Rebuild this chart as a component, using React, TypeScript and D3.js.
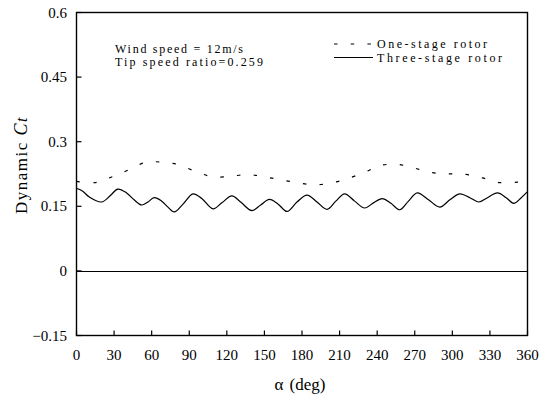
import React, { useEffect, useRef } from "react";
import * as d3 from "d3";

var width = 546,
  height = 394;
var margin = { left: 76.5, right: 18.5, top: 12.5, bottom: 58.5 };
var font = "'Liberation Serif', 'DejaVu Serif', serif";

// angle (deg) and dynamic Ct
const oneStageAlpha = [0, 15, 28, 42, 55, 68, 81, 94, 108, 122, 136, 149, 162, 176, 190, 203, 216, 230, 243, 257, 270, 284, 297, 311, 324, 338, 352, 360];
const oneStageCt = [0.208, 0.205, 0.218, 0.235, 0.252, 0.2525, 0.247, 0.232, 0.219, 0.219, 0.224, 0.219, 0.212, 0.205, 0.2, 0.204, 0.214, 0.229, 0.245, 0.247, 0.2385, 0.228, 0.2255, 0.224, 0.216, 0.205, 0.206, 0.21];

const threeStageAlpha = [0, 5, 10, 20, 27, 33, 40, 46, 52, 57, 62, 68, 73, 78, 85, 93, 100, 109, 116, 124, 131, 140, 147, 154, 161, 168, 176, 184, 192, 200, 207, 214, 222, 230, 237, 244, 251, 258, 265, 272, 281, 290, 298, 306, 314, 321, 328, 336, 343, 349, 355, 360];
const threeStageCt = [0.192, 0.185, 0.172, 0.16, 0.175, 0.19, 0.181, 0.165, 0.153, 0.16, 0.17, 0.162, 0.148, 0.137, 0.155, 0.179, 0.168, 0.144, 0.158, 0.174, 0.16, 0.14, 0.153, 0.166, 0.155, 0.138, 0.16, 0.176, 0.16, 0.143, 0.162, 0.179, 0.162, 0.146, 0.158, 0.168, 0.157, 0.142, 0.162, 0.181, 0.165, 0.148, 0.165, 0.179, 0.17, 0.16, 0.17, 0.181, 0.17, 0.157, 0.17, 0.184];

const xTicks = [0, 30, 60, 90, 120, 150, 180, 210, 240, 270, 300, 330, 360];
const yTicks = [-0.15, 0, 0.15, 0.3, 0.45, 0.6];
const yTickLabels = ["\u22120.15", "0", "0.15", "0.3", "0.45", "0.6"];

export default function App() {
  const svgRef = useRef<SVGSVGElement>(null);

  useEffect(() => {
    const svg = d3.select(svgRef.current);
    svg.selectAll("*").remove();

    const x = d3.scaleLinear().domain([0, 360]).range([margin.left, width - margin.right]);
    const y = d3.scaleLinear().domain([-0.15, 0.6]).range([height - margin.bottom, margin.top]);

    const g = svg.append("g");

    // zero line
    g.append("line")
      .attr("x1", x(0)).attr("x2", x(360))
      .attr("y1", Math.round(y(0)) + 0.5).attr("y2", Math.round(y(0)) + 0.5)
      .attr("stroke", "black").attr("stroke-width", 1.2);

    const line = d3.line<[number, number]>()
      .x(d => x(d[0]))
      .y(d => y(d[1]))
      .curve(d3.curveCatmullRom.alpha(0.5));

    // one-stage rotor (dashed)
    g.append("path")
      .attr("d", line(oneStageAlpha.map((a, i) => [a, oneStageCt[i]])))
      .attr("fill", "none")
      .attr("stroke", "black")
      .attr("stroke-width", 1.2)
      .attr("stroke-dasharray", "3.5,13.2");

    // three-stage rotor (solid)
    g.append("path")
      .attr("d", line(threeStageAlpha.map((a, i) => [a, threeStageCt[i]])))
      .attr("fill", "none")
      .attr("stroke", "black")
      .attr("stroke-width", 1.2);

    // frame
    g.append("rect")
      .attr("x", x(0)).attr("y", y(0.6))
      .attr("width", x(360) - x(0)).attr("height", y(-0.15) - y(0.6))
      .attr("fill", "none").attr("stroke", "black").attr("stroke-width", 1.4);

    // ticks inside
    g.selectAll(".xt")
      .data(xTicks)
      .enter()
      .append("line")
      .attr("x1", d => x(d)).attr("x2", d => x(d))
      .attr("y1", y(-0.15)).attr("y2", y(-0.15) - 5)
      .attr("stroke", "black").attr("stroke-width", 1.2);

    g.selectAll(".yt")
      .data(yTicks)
      .enter()
      .append("line")
      .attr("x1", x(0)).attr("x2", x(0) + 5)
      .attr("y1", d => y(d)).attr("y2", d => y(d))
      .attr("stroke", "black").attr("stroke-width", 1.2);

    // tick labels
    g.selectAll(".xl")
      .data(xTicks)
      .enter()
      .append("text")
      .attr("x", d => x(d))
      .attr("y", 360)
      .attr("text-anchor", "middle")
      .attr("font-family", font)
      .attr("font-size", 15)
      .text(d => d);

    g.selectAll(".yl")
      .data(yTicks)
      .enter()
      .append("text")
      .attr("x", 67)
      .attr("y", d => y(d) + 5)
      .attr("text-anchor", "end")
      .attr("font-family", font)
      .attr("font-size", 15)
      .text((d, i) => yTickLabels[i]);

    // axis titles
    const yt = g.append("text")
      .attr("transform", "translate(27,165) rotate(-90)")
      .attr("text-anchor", "middle")
      .attr("font-family", font)
      .attr("font-size", 17)
      .attr("letter-spacing", 1.5);
    yt.append("tspan").text("Dynamic ");
    yt.append("tspan").attr("font-style", "italic").attr("font-size", 18).text("C");
    yt.append("tspan").attr("font-style", "italic").attr("font-size", 16).text("t");

    const xt = g.append("text")
      .attr("x", 300)
      .attr("y", 390)
      .attr("text-anchor", "middle")
      .attr("font-family", font)
      .attr("font-size", 17);
    xt.append("tspan").text("\u03b1");
    xt.append("tspan").attr("dx", 6).text("(deg)");

    // annotation
    g.append("text")
      .attr("x", 115).attr("y", 53)
      .attr("font-family", font).attr("font-size", 12)
      .attr("textLength", 128)
      .text("Wind speed = 12m/s");
    g.append("text")
      .attr("x", 115).attr("y", 65.5)
      .attr("font-family", font).attr("font-size", 12)
      .attr("textLength", 148)
      .text("Tip speed ratio=0.259");

    // legend
    g.append("line")
      .attr("x1", 334).attr("x2", 374).attr("y1", 44).attr("y2", 44)
      .attr("stroke", "black").attr("stroke-width", 1.2)
      .attr("stroke-dasharray", "3.5,13.2");
    g.append("text")
      .attr("x", 377).attr("y", 48)
      .attr("font-family", font).attr("font-size", 12)
      .attr("textLength", 110)
      .text("One-stage rotor");
    g.append("line")
      .attr("x1", 334).attr("x2", 373).attr("y1", 57.5).attr("y2", 57.5)
      .attr("stroke", "black").attr("stroke-width", 1.2);
    g.append("text")
      .attr("x", 377).attr("y", 61.5)
      .attr("font-family", font).attr("font-size", 12)
      .attr("textLength", 125)
      .text("Three-stage rotor");
  }, []);

  return (
    <svg
      ref={svgRef}
      width={width}
      height={height}
      style={{ position: "fixed", left: 0, top: 0, background: "white" }}
    ></svg>
  );
}
